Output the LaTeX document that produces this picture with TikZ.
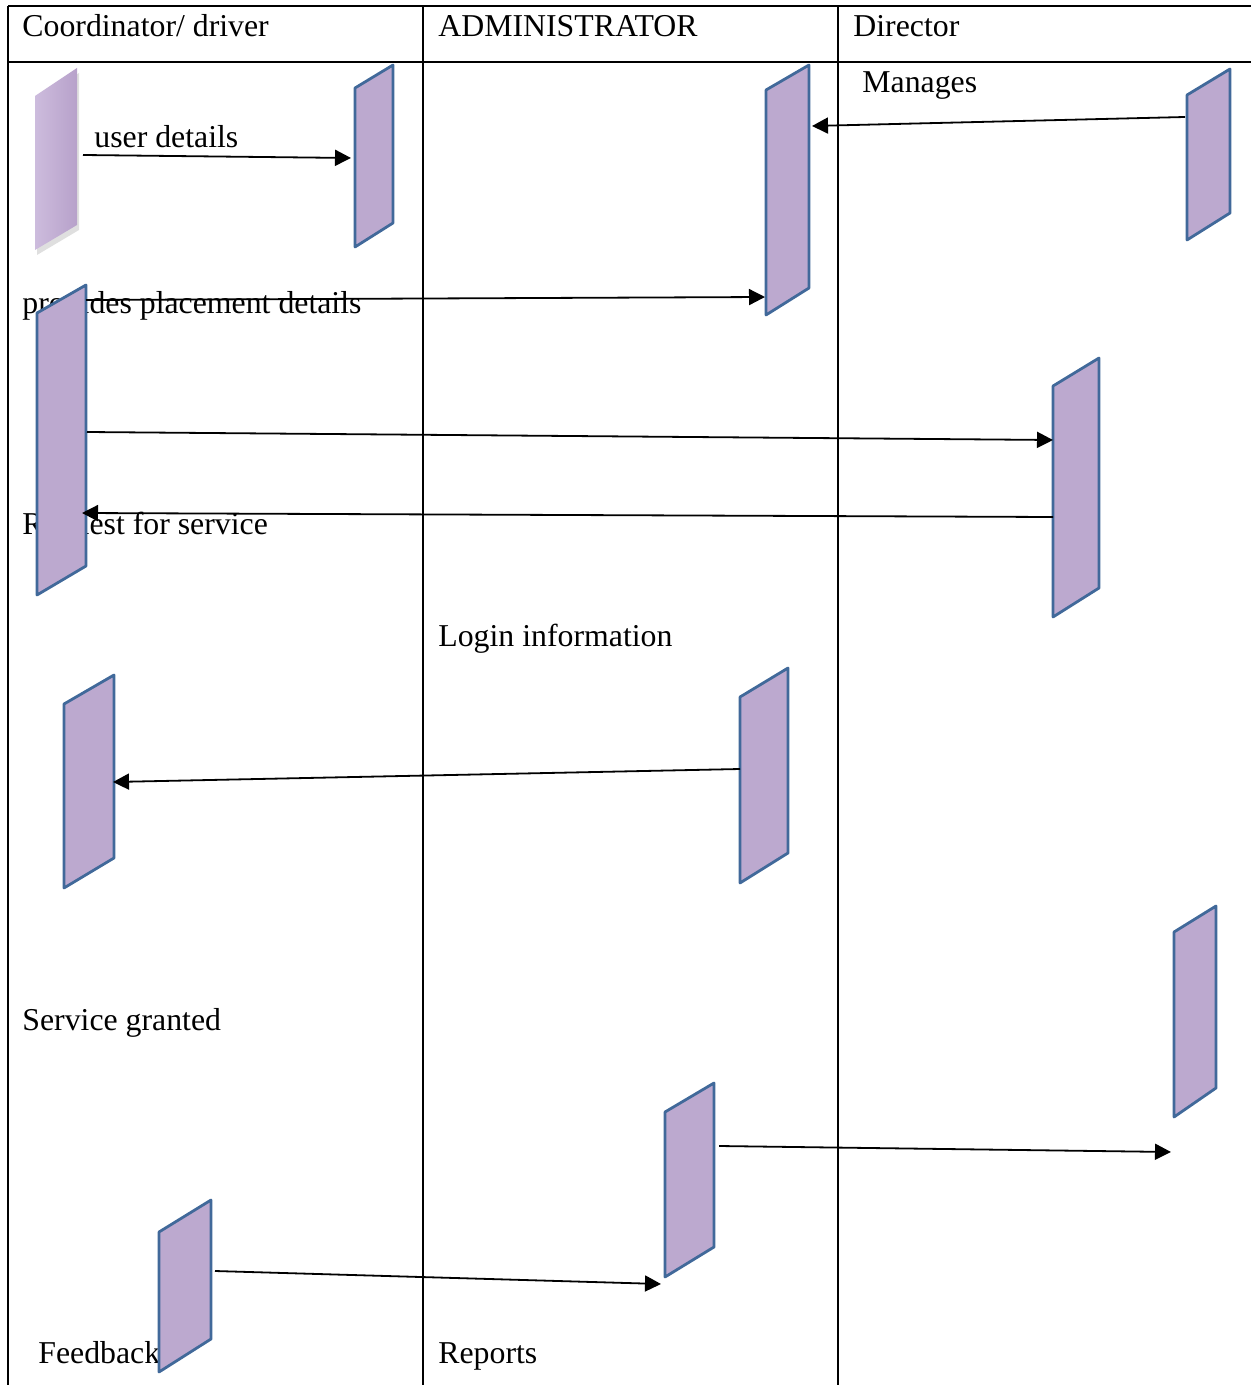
\documentclass[tikz,border=0pt]{standalone}
\usepackage{fontspec}
\setmainfont{Liberation Serif}
\usetikzlibrary{arrows.meta,shadows}

\definecolor{barfill}{HTML}{BCA9CF}
\definecolor{baredge}{HTML}{41699A}
\definecolor{glowlight}{HTML}{CDBCDD}
\definecolor{glowdark}{HTML}{B7A1CA}

\tikzset{
  grid/.style={line width=1pt, black},
  barstyle/.style={fill=barfill, draw=baredge, line width=1.4pt, line join=round},
  msg/.style={line width=0.9pt, black, -{Triangle[length=8pt,width=8pt]}},
  lbl/.style={anchor=base west, inner sep=0pt, font=\fontsize{15.9}{19}\selectfont},
}

% activation bar: name, left x, right x, top-left y, top-right y, bottom-left y, bottom-right y
\newcommand\lifebar[7]{%
  \draw[barstyle] (#2,#4) -- (#3,#5) -- (#3,#7) -- (#2,#6) -- cycle;
  \coordinate (#1) at ({(#2+#3)/2},{(#4+#7)/2});
}

\begin{document}
\begin{tikzpicture}[x=0.5pt,y=-0.5pt]
\useasboundingbox (0,0) rectangle (1251,1385);

% swimlane table
\draw[grid] (8,6) -- (1251,6);
\draw[grid] (8,62) -- (1251,62);
\draw[grid] (8,6) -- (8,1385);
\draw[grid] (423,6) -- (423,1385);
\draw[grid] (838,6) -- (838,1385);

% headers
\node[lbl] (hcoord) at (22,37) {Coordinator/ driver};
\node[lbl] (hadmin) at (438,37) {ADMINISTRATOR};
\node[lbl] (hdir) at (853,37) {Director};

% message labels (bars are drawn over some of them)
\node[lbl] (tuser) at (94,148) {user details};
\node[lbl] (tman) at (862,93) {Manages};
\node[lbl] (tplace) at (22,314) {provides placement details};
\node[lbl] (treq) at (22,534) {Request for service};
\node[lbl] (tlogin) at (438,646) {Login information};
\node[lbl] (tgrant) at (22,1030) {Service granted};
\node[lbl] (tfeed) at (38,1363) {Feedback};
\node[lbl] (trep) at (438,1363) {Reports};

% first coordinator bar, shaded with a soft shadow
\shade[left color=glowlight, right color=glowdark,
       drop shadow={opacity=0.25, shadow xshift=1pt, shadow yshift=-2.5pt}]
  (35,96) -- (77,68) -- (77,225) -- (35,250) -- cycle;
\coordinate (b1) at (56,160);

% activation bars
\lifebar{b2}{355}{393}{88}{65}{247}{223}
\lifebar{b3}{766}{809}{90}{65}{315}{288}
\lifebar{b4}{1187}{1230}{95}{69}{240}{213}
\lifebar{b5}{37}{86}{313}{285}{595}{566}
\lifebar{b6}{1053}{1099}{386}{358}{617}{588}
\lifebar{b7}{64}{114}{704}{675}{888}{858}
\lifebar{b8}{740}{788}{697}{668}{883}{853}
\lifebar{b9}{1174}{1216}{932}{906}{1117}{1088}
\lifebar{b10}{665}{714}{1112}{1083}{1277}{1247}
\lifebar{b11}{159}{211}{1232}{1200}{1372}{1339}

% connector end points
\coordinate (m1s) at (83,155);   \coordinate (m1e) at (351,158);
\coordinate (m2s) at (1185,117); \coordinate (m2e) at (812,126);
\coordinate (m3s) at (86,300);   \coordinate (m3e) at (765,297);
\coordinate (m4s) at (87,432);   \coordinate (m4e) at (1053,440);
\coordinate (m5s) at (1053,517); \coordinate (m5e) at (82,513);
\coordinate (m6s) at (740,769);  \coordinate (m6e) at (113,782);
\coordinate (m7s) at (719,1146); \coordinate (m7e) at (1171,1152);
\coordinate (m8s) at (215,1271); \coordinate (m8e) at (661,1284);

% messages
\draw[msg] (m1s) -- (m1e);
\draw[msg] (m2s) -- (m2e);
\draw[msg] (m3s) -- (m3e);
\draw[msg] (m4s) -- (m4e);
\draw[msg] (m5s) -- (m5e);
\draw[msg] (m6s) -- (m6e);
\draw[msg] (m7s) -- (m7e);
\draw[msg] (m8s) -- (m8e);
\end{tikzpicture}
\end{document}
